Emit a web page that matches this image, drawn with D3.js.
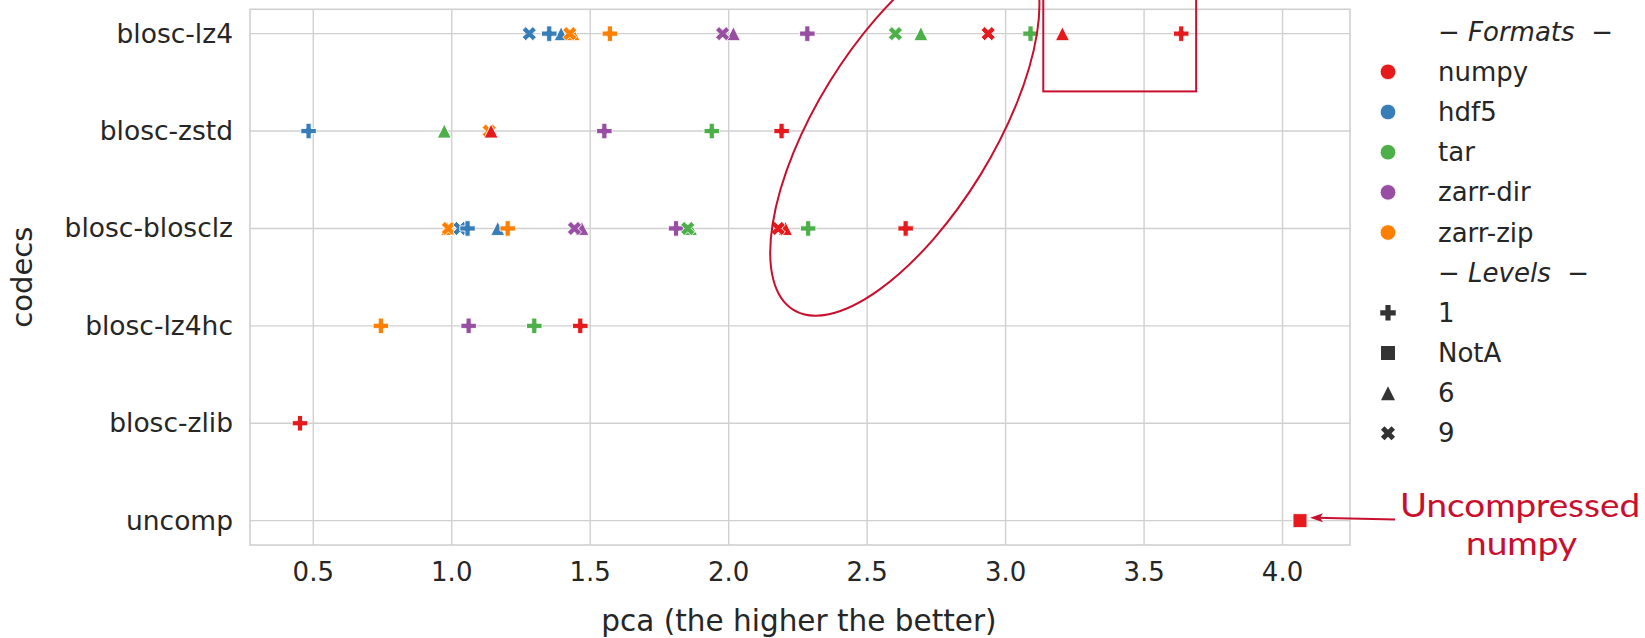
<!DOCTYPE html>
<html>
<head>
<meta charset="utf-8">
<script src="https://cdn.jsdelivr.net/npm/d3@7"></script>
<style>
  body { margin: 0; background: #fff; }
  text { font-family: "DejaVu Sans", sans-serif; fill: #262626; }
</style>
</head>
<body>
<svg id="chart" width="1645" height="638"></svg>
<script>
// codecs on the y axis, formats (colour) and levels (marker)
var codecs = ["blosc-lz4", "blosc-zstd", "blosc-blosclz", "blosc-lz4hc", "blosc-zlib", "uncomp"];
var formats = ["numpy", "hdf5", "tar", "zarr-dir", "zarr-zip"];
var levels = ["1", "NotA", "6", "9"];
var formatColors = ["#e41a1c", "#377eb8", "#4daf4a", "#984ea3", "#ff7f00"];
var xTicks = [0.5, 1.0, 1.5, 2.0, 2.5, 3.0, 3.5, 4.0];

// [format, level, pca] per codec, drawn in this order
var lz4 = [
  ["hdf5", "6", 1.395], ["zarr-zip", "6", 1.438], ["hdf5", "9", 1.280], ["hdf5", "1", 1.352],
  ["zarr-zip", "9", 1.426], ["zarr-zip", "1", 1.571], ["zarr-dir", "6", 2.017], ["zarr-dir", "9", 1.978],
  ["zarr-dir", "1", 2.284], ["tar", "9", 2.602], ["tar", "6", 2.694], ["numpy", "9", 2.937],
  ["tar", "1", 3.090], ["numpy", "6", 3.205], ["numpy", "1", 3.634]
];
var zstd = [
  ["zarr-zip", "9", 1.135], ["numpy", "6", 1.142], ["hdf5", "1", 0.483], ["tar", "6", 0.973],
  ["zarr-dir", "1", 1.551], ["tar", "1", 1.939], ["numpy", "1", 2.191]
];
var blosclz = [
  ["zarr-zip", "6", 0.985], ["zarr-zip", "9", 0.988], ["hdf5", "9", 1.030], ["hdf5", "1", 1.057],
  ["hdf5", "6", 1.166], ["zarr-zip", "1", 1.202], ["zarr-dir", "6", 1.470], ["zarr-dir", "9", 1.443],
  ["zarr-dir", "1", 1.810], ["tar", "6", 1.862], ["tar", "9", 1.852], ["numpy", "6", 2.205],
  ["numpy", "9", 2.179], ["tar", "1", 2.287], ["numpy", "1", 2.639]
];
var lz4hc = [["zarr-zip", "1", 0.744], ["zarr-dir", "1", 1.061], ["tar", "1", 1.298], ["numpy", "1", 1.464]];
var zlib = [["numpy", "1", 0.452]];
var uncomp = [["numpy", "NotA", 4.063]];

var points = [];
[lz4, zstd, blosclz, lz4hc, zlib, uncomp].forEach(function(rows, i) {
  rows.forEach(function(r) {
    points.push({codec: codecs[i], format: r[0], level: r[1], pca: r[2]});
  });
});

var svg = d3.select("#chart");
var margin = {l: 250, t: 9.3, r: 295, b: 93};
var W = 1645, H = 638;
var pw = W - margin.l - margin.r, ph = H - margin.t - margin.b;

var ext = d3.extent(points, function(d) { return d.pca; });
var pad = (ext[1] - ext[0]) * 0.05;
var x = d3.scaleLinear().domain([ext[0] - pad, ext[1] + pad]).range([margin.l, margin.l + pw]);
var y = d3.scalePoint().domain(codecs).range([margin.t, margin.t + ph]).padding(0.25);
var color = d3.scaleOrdinal().domain(formats).range(formatColors);

// custom marker shapes, size = full width in px
var plusSym = {draw: function(c, s) {
  var a = s / 2, b = s / 6;
  c.moveTo(-b, -a); c.lineTo(b, -a); c.lineTo(b, -b); c.lineTo(a, -b); c.lineTo(a, b); c.lineTo(b, b);
  c.lineTo(b, a); c.lineTo(-b, a); c.lineTo(-b, b); c.lineTo(-a, b); c.lineTo(-a, -b); c.lineTo(-b, -b); c.closePath();
}};
var xSym = {draw: function(c, s) {
  var a = s / 2, b = s / 6, k = Math.SQRT1_2;
  var pts = [[-b, -a], [b, -a], [b, -b], [a, -b], [a, b], [b, b], [b, a], [-b, a], [-b, b], [-a, b], [-a, -b], [-b, -b]];
  pts.forEach(function(p, i) {
    var px = (p[0] - p[1]) * k, py = (p[0] + p[1]) * k;
    if (i == 0) c.moveTo(px, py); else c.lineTo(px, py);
  });
  c.closePath();
}};
var triSym = {draw: function(c, s) {
  var a = s / 2;
  c.moveTo(0, -a); c.lineTo(a, a); c.lineTo(-a, a); c.closePath();
}};
var sqSym = {draw: function(c, s) {
  var a = s / 2;
  c.rect(-a, -a, s, s);
}};
var shapes = {"1": [plusSym, 15.5], "NotA": [sqSym, 14], "6": [triSym, 14], "9": [xSym, 15]};
var marker = function(level) {
  return d3.symbol().type(shapes[level][0]).size(shapes[level][1])();
};

// grid + frame
var grid = svg.append("g");
grid.selectAll(".vg").data(xTicks).enter().append("line")
  .attr("x1", function(d) { return x(d); }).attr("x2", function(d) { return x(d); })
  .attr("y1", margin.t).attr("y2", margin.t + ph)
  .attr("stroke", "#d0d0d0").attr("stroke-width", 1.4);
grid.selectAll(".hg").data(codecs).enter().append("line")
  .attr("x1", margin.l).attr("x2", margin.l + pw)
  .attr("y1", function(d) { return y(d); }).attr("y2", function(d) { return y(d); })
  .attr("stroke", "#d0d0d0").attr("stroke-width", 1.4);
grid.append("rect").attr("x", margin.l).attr("y", margin.t).attr("width", pw).attr("height", ph)
  .attr("fill", "none").attr("stroke", "#d0d0d0").attr("stroke-width", 1.6);

// axes text
svg.append("g").selectAll("text").data(xTicks).enter().append("text")
  .attr("x", function(d) { return x(d); }).attr("y", 581)
  .attr("text-anchor", "middle").style("font-size", "26px")
  .text(function(d) { return d3.format(".1f")(d); });
svg.append("g").selectAll("text").data(codecs).enter().append("text")
  .attr("x", margin.l - 17).attr("y", function(d) { return y(d) + 9; })
  .attr("text-anchor", "end").style("font-size", "26.5px")
  .text(function(d) { return d; });
svg.append("text").attr("x", margin.l + pw / 2 - 1).attr("y", 631)
  .attr("text-anchor", "middle").style("font-size", "29.5px")
  .text("pca (the higher the better)");
svg.append("text").attr("transform", "translate(32," + (margin.t + ph / 2) + ") rotate(-90)")
  .attr("text-anchor", "middle").style("font-size", "29px")
  .text("codecs");

// points
svg.append("g").selectAll("path").data(points).enter().append("path")
  .attr("d", function(d) { return marker(d.level); })
  .attr("transform", function(d) { return "translate(" + x(d.pca) + "," + y(d.codec) + ")"; })
  .attr("fill", function(d) { return color(d.format); })
  .attr("stroke", "#fff").attr("stroke-width", 0.9);

// legend
var legendRows = ["\u2212 Formats  \u2212"].concat(formats, ["\u2212 Levels  \u2212"], levels);
var lg = svg.append("g");
legendRows.forEach(function(label, i) {
  var ly = 31.7 + i * 40.16;
  var t = lg.append("text").attr("x", 1438).attr("y", ly + 9).style("font-size", "26px")
    .style("white-space", "pre").text(label);
  if (i == 0 || i == 6) t.style("font-style", "italic");
  if (i >= 1 && i <= 5) {
    lg.append("circle").attr("cx", 1388).attr("cy", ly).attr("r", 7.8)
      .attr("fill", color(label)).attr("stroke", "#fff").attr("stroke-width", 0.8);
  } else if (i > 6) {
    lg.append("path").attr("d", marker(label))
      .attr("transform", "translate(1388," + ly + ")").attr("fill", "#333");
  }
});

// annotations
var red = "#c8102e";
var step = y.step();
var ell = {pca: 2.636, row: 0.976, rx: 212.7, ry: 88.6, angle: -58.4};
var ecx = x(ell.pca), ecy = y(codecs[0]) + ell.row * step;
svg.append("ellipse").attr("cx", ecx).attr("cy", ecy).attr("rx", ell.rx).attr("ry", ell.ry)
  .attr("transform", "rotate(" + ell.angle + "," + ecx + "," + ecy + ")")
  .attr("fill", "none").attr("stroke", red).attr("stroke-width", 2);
var box = {pca0: 3.136, pca1: 3.688, row0: -0.6, row1: 0.593};
svg.append("rect")
  .attr("x", x(box.pca0)).attr("y", y(codecs[0]) + box.row0 * step)
  .attr("width", x(box.pca1) - x(box.pca0)).attr("height", (box.row1 - box.row0) * step)
  .attr("fill", "none").attr("stroke", red).attr("stroke-width", 2);

var target = points[points.length - 1];
var tx = x(target.pca) + 10, ty = y(target.codec) - 3;
var sx = 1395, sy = ty + 1.8;
svg.append("line").attr("x1", sx).attr("y1", sy).attr("x2", tx + 6).attr("y2", ty + 0.1)
  .attr("stroke", red).attr("stroke-width", 2);
svg.append("path")
  .attr("d", "M" + tx + "," + ty + "L" + (tx + 13) + "," + (ty - 4.5) + "L" + (tx + 10) + "," + ty + "L" + (tx + 13) + "," + (ty + 4.5) + "Z")
  .attr("fill", red);
var note = svg.append("g").style("font-size", "33px");
note.append("text").attr("x", 1520).attr("y", 517).attr("text-anchor", "middle")
  .attr("textLength", 240).attr("lengthAdjust", "spacingAndGlyphs")
  .style("fill", red).style("font-family", "Lato, sans-serif").text("Uncompressed");
note.append("text").attr("x", 1521.5).attr("y", 555).attr("text-anchor", "middle")
  .attr("textLength", 111).attr("lengthAdjust", "spacingAndGlyphs")
  .style("fill", red).style("font-family", "Lato, sans-serif").text("numpy");
</script>
</body>
</html>
